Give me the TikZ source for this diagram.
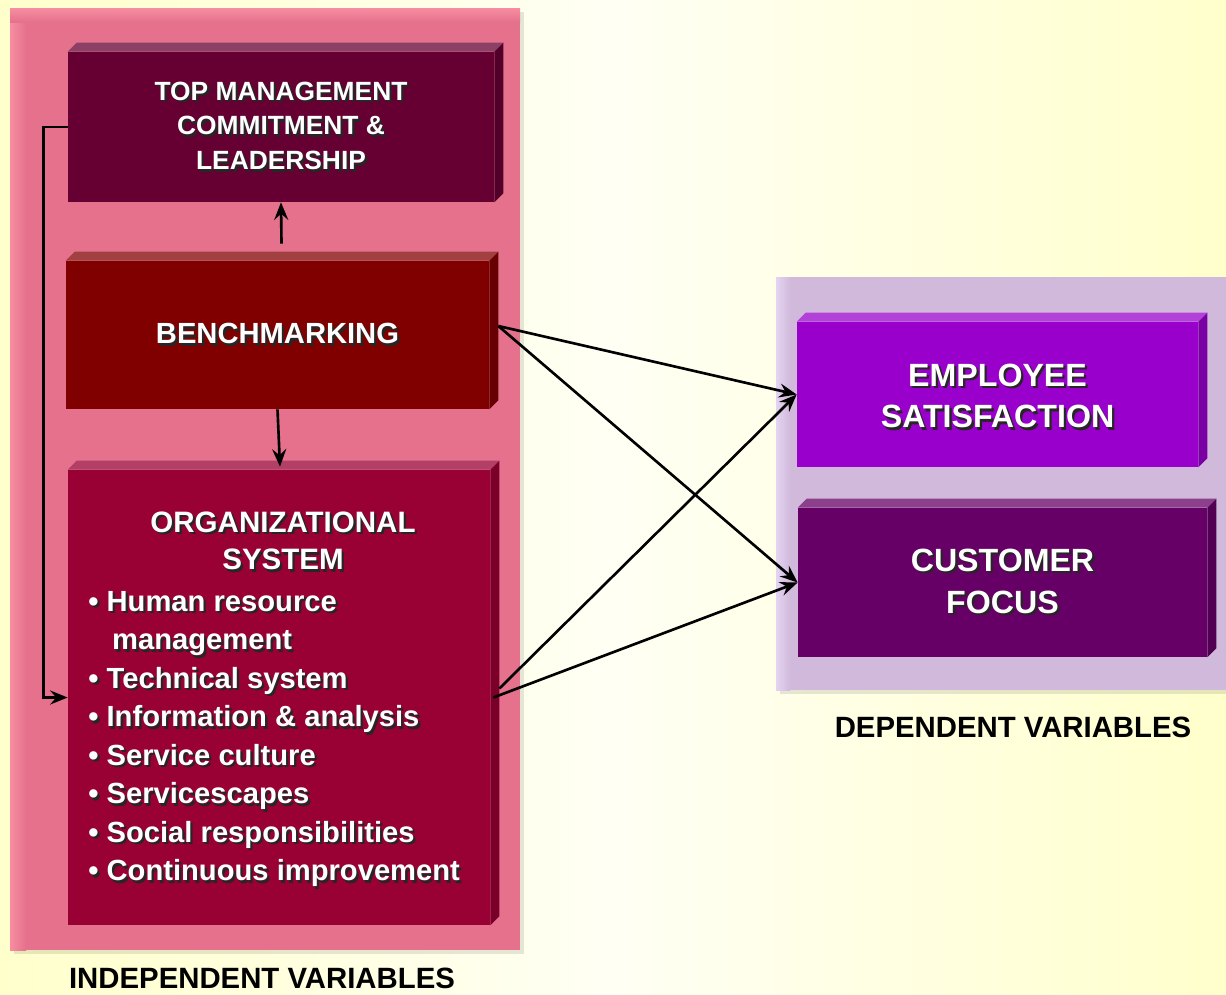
\documentclass[tikz,border=0pt]{standalone}
\usepackage{fontspec}
\setmainfont{Liberation Sans}
\usetikzlibrary{arrows.meta,positioning,fit,shadows}

\definecolor{bgyellow}{HTML}{FFFFCC}
\definecolor{bglight}{HTML}{FFFFF4}
\definecolor{pinkpanel}{HTML}{E5718D}
\definecolor{pinkedge}{HTML}{F78DA0}
\definecolor{lilacpanel}{HTML}{D1B9DB}
\definecolor{lilacedge}{HTML}{E4D4F2}
\definecolor{topcol}{HTML}{660033}
\definecolor{benchcol}{HTML}{800000}
\definecolor{orgcol}{HTML}{990033}
\definecolor{empcol}{HTML}{9900CC}
\definecolor{custcol}{HTML}{660066}

% white text with a dark drop shadow
\newcommand{\shtext}[1]{\makebox[0pt][l]{\hspace{1.3pt}\raisebox{-1.3pt}{\textcolor{black!85}{#1}}}#1}

\tikzstyle{arrow} = [line width=1.5pt,-{Stealth[length=10pt,width=8pt,inset=3.5pt]}]

\begin{document}
\begin{tikzpicture}[
        x=0.02cm, y=-0.02cm, % one unit = one pixel of the sketch
        panel/.style={rectangle, draw=none, inner sep=0pt, drop shadow={shadow xshift=2.5pt, shadow yshift=-2.5pt, fill=black, opacity=0.1}},
        box/.style={rectangle, draw=none, inner sep=0pt},
        boxtext/.style={inner sep=0pt, text=white, align=center},
        caption/.style={inner sep=0pt, font=\fontsize{16.7}{20}\selectfont\bfseries}
    ]

        % background
        \shade[left color=bgyellow, right color=bgyellow, middle color=bglight] (0,0) rectangle (1226,994);
        \useasboundingbox (0,0) rectangle (1226,994);

        % panels
        \node (indep) [panel, fill=pinkpanel, fit={(10,8) (520,950)}] {};
        \shade[left color=pinkedge, right color=pinkpanel] (10,8) rectangle (26,950);
        \shade[top color=pinkedge, bottom color=pinkpanel] (10,8) rectangle (520,22);
        \node (dep) [panel, fill=lilacpanel, fit={(776,277) (1226,690)}] {};
        \shade[left color=lilacedge, right color=lilacpanel] (776,277) rectangle (790,690);

        % boxes
        \node (top) [box, fill=topcol, fit={(68,52) (494,202)}] {};
        \node (bench) [box, fill=benchcol, fit={(66,261) (489,409)}] {};
        \node (org) [box, fill=orgcol, fit={(68,470) (490,925)}] {};
        \node (emp) [box, fill=empcol, fit={(797,322) (1198,467)}] {};
        \node (cust) [box, fill=custcol, fit={(798,508) (1207,657)}] {};

        % bevels
        \foreach \n/\c in {top/topcol, bench/benchcol, org/orgcol, emp/empcol, cust/custcol} {
            \fill[\c!75!white] (\n.north west) -- ([shift={(9,-9)}]\n.north west) -- ([shift={(9,-9)}]\n.north east) -- (\n.north east) -- cycle;
            \fill[\c!80!black] (\n.north east) -- ([shift={(9,-9)}]\n.north east) -- ([shift={(9,-9)}]\n.south east) -- (\n.south east) -- cycle;
        }

        % box texts
        \node (toptext) [boxtext, font=\fontsize{15}{19.8}\selectfont\bfseries] at (top.center)
            {\shtext{TOP MANAGEMENT}\\\shtext{COMMITMENT \&}\\\shtext{LEADERSHIP}};
        \node (benchtext) [boxtext, font=\fontsize{16.6}{19}\selectfont\bfseries] at (bench.center)
            {\shtext{BENCHMARKING}};
        \node (emptext) [boxtext, font=\fontsize{18.3}{23.8}\selectfont\bfseries] at ([yshift=-0.05cm]emp.center)
            {\shtext{EMPLOYEE}\\\shtext{SATISFACTION}};
        \node (custtext) [boxtext, font=\fontsize{18.3}{23.8}\selectfont\bfseries] at (cust.center)
            {\shtext{CUSTOMER}\\\shtext{FOCUS}};

        % organizational system text
        \node (orghead) [boxtext, font=\fontsize{16.8}{21.5}\selectfont\bfseries] at (283,542)
            {\shtext{ORGANIZATIONAL}\\\shtext{SYSTEM}};
        \node (orglist) [boxtext, align=left, anchor=north west, font=\fontsize{16.6}{21.9}\selectfont\bfseries] at (88,591)
            {\shtext{\textbullet\ Human resource}\\
             \shtext{\hspace{13.6pt}management}\\
             \shtext{\textbullet\ Technical system}\\
             \shtext{\textbullet\ Information \& analysis}\\
             \shtext{\textbullet\ Service culture}\\
             \shtext{\textbullet\ Servicescapes}\\
             \shtext{\textbullet\ Social responsibilities}\\
             \shtext{\textbullet\ Continuous improvement}};

        % captions
        \node (indeplabel) [caption, below=0.34cm of indep, xshift=-0.06cm] {INDEPENDENT VARIABLES};
        \node (deplabel) [caption, below=0.52cm of dep, xshift=0.24cm] {DEPENDENT VARIABLES};

        % arrows inside the left panel
        \draw [arrow] ([shift={(4,-17)}]bench.north) -- (top.south);
        \draw [arrow] (bench.south) -- ([shift={(1,-3)}]org.north);
        \draw [arrow] (top.west) -- ++(-24,0) |- (org.west);

        % arrows to the dependent variables
        \draw [arrow] ([shift={(9,-9)}]bench.east) -- (emp.west);
        \draw [arrow] ([shift={(9,-9)}]bench.east) -- (cust.west);
        \draw [arrow] ([shift={(9,-9)}]org.east) -- (emp.west);
        \draw [arrow] ([xshift=0.06cm]org.east) -- (cust.west);

    \end{tikzpicture}
\end{document}
